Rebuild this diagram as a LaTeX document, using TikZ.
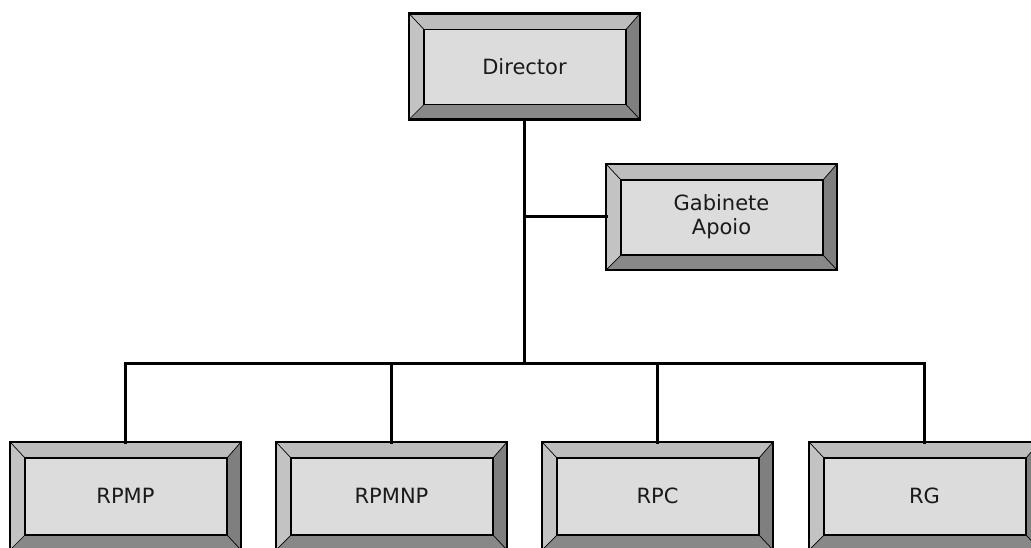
\documentclass[tikz,border=0pt]{standalone}
\usepackage{fontspec}
\setmainfont{DejaVu Sans}
\usetikzlibrary{calc,backgrounds}
\definecolor{bevtop}{HTML}{BDBDBD}
\definecolor{bevleft}{HTML}{C3C3C3}
\definecolor{bevright}{HTML}{7F7F7F}
\definecolor{bevbot}{HTML}{888888}
\definecolor{face}{HTML}{DCDCDC}
\definecolor{ink}{HTML}{1A1A1A}
\tikzset{
  bevbox/.style={draw=black, line width=2.2pt, minimum width=231pt, minimum height=106pt,
    inner sep=0pt, outer sep=0pt, align=center, text=ink,
    font=\fontsize{21}{24}\selectfont},
  lowbox/.style={minimum height=108pt},
  conn/.style={draw=black, line width=3pt, line join=miter, line cap=rect},
  diag/.style={draw=black, line width=0.7pt}
}
\newcommand{\bevnode}[4][]{%
  \node[bevbox,#1] (#2) at (#3) {#4};
  \begin{scope}[on background layer]
    \coordinate (#2-itl) at ($(#2.north west)+(15,-16)$);
    \coordinate (#2-itr) at ($(#2.north east)+(-14,-16)$);
    \coordinate (#2-ibr) at ($(#2.south east)+(-14,15)$);
    \coordinate (#2-ibl) at ($(#2.south west)+(15,15)$);
    \fill[bevtop] (#2.north west) -- (#2.north east) -- (#2-itr) -- (#2-itl) -- cycle;
    \fill[bevleft] (#2.north west) -- (#2-itl) -- (#2-ibl) -- (#2.south west) -- cycle;
    \fill[bevright] (#2.north east) -- (#2.south east) -- (#2-ibr) -- (#2-itr) -- cycle;
    \fill[bevbot] (#2.south west) -- (#2-ibl) -- (#2-ibr) -- (#2.south east) -- cycle;
    \draw[diag] (#2.north west) -- (#2-itl);
    \draw[diag] (#2.north east) -- (#2-itr);
    \draw[diag] (#2.south east) -- (#2-ibr);
    \draw[diag] (#2.south west) -- (#2-ibl);
    \filldraw[fill=face, draw=black, line width=1.8pt] (#2-itl) rectangle (#2-ibr);
  \end{scope}
}
\begin{document}
\begin{tikzpicture}[x=1pt,y=1pt]
  \useasboundingbox (0,0) rectangle (1031,-548);
  \clip (0,0) rectangle (1031,-548);
  \bevnode{dir}{524.5,-66.5}{Director}
  \bevnode{gab}{721.5,-217}{Gabinete\\Apoio}
  \bevnode[lowbox]{rpmp}{125.5,-496}{RPMP}
  \bevnode[lowbox]{rpmnp}{391.5,-496}{RPMNP}
  \bevnode[lowbox]{rpc}{657.5,-496}{RPC}
  \bevnode[lowbox]{rg}{924.5,-496}{RG}
  \coordinate (busy) at (0,-363);
  \draw[conn] (dir.south) -- (dir.south |- busy);
  \draw[conn] (dir.south |- gab.west) -- (gab.west);
  \draw[conn] (rpmp.north) -- (rpmp.north |- busy) -- (rg.north |- busy) -- (rg.north);
  \draw[conn] (rpmnp.north) -- (rpmnp.north |- busy);
  \draw[conn] (rpc.north) -- (rpc.north |- busy);
\end{tikzpicture}
\end{document}
